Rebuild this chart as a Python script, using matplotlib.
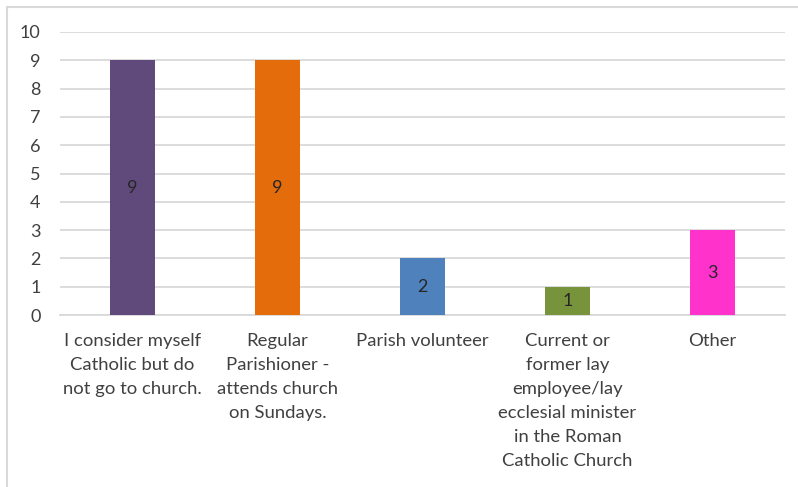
import matplotlib.pyplot as plt
from matplotlib.patches import Rectangle

categories = [
    "I consider myself\nCatholic but do\nnot go to church.",
    "Regular\nParishioner -\nattends church\non Sundays.",
    "Parish volunteer",
    "Current or\nformer lay\nemployee/lay\necclesial minister\nin the Roman\nCatholic Church",
    "Other",
]
counts = [9, 9, 2, 1, 3]
bar_colors = ["#604A7B", "#E46C0A", "#4F81BD", "#77933C", "#FF33CC"]
y_ticks = list(range(0, 11))

plt.rcParams['font.family'] = ['Lato', 'DejaVu Sans']

W, H = 798, 487
fig = plt.figure(figsize=(W / 100, H / 100), dpi=100)

# chart frame (right and bottom edges run off the image)
fig.patches.append(Rectangle((7 / W, -0.1), 1.2, (H - 7) / H + 0.1,
                             transform=fig.transFigure, fill=False,
                             edgecolor="#D9D9D9", linewidth=1.5))

ax = fig.add_axes([60 / W, (H - 315) / H, 725 / W, 283 / H])

x = range(len(categories))
bars = ax.bar(x, counts, width=0.31, color=bar_colors, zorder=3)

for b, v in zip(bars, counts):
    ax.text(b.get_x() + b.get_width() / 2, v / 2, str(v),
            ha="center", va="center", fontsize=13, color="#262626", zorder=4)

ax.set_xlim(-0.5, len(categories) - 0.5)
ax.set_ylim(0, 10)
ax.set_yticks(y_ticks)
ax.yaxis.grid(True, color="#D9D9D9", linewidth=1.3, zorder=0)
ax.set_axisbelow(True)

ax.set_xticks(list(x))
ax.set_xticklabels(categories, fontsize=13.3, color="#404040", linespacing=1.62,
                   va="top")
ax.tick_params(axis="x", length=0, pad=13)
ax.tick_params(axis="y", length=0, pad=14, labelsize=13, labelcolor="#404040")

for side in ["top", "right", "left"]:
    ax.spines[side].set_visible(False)
ax.spines["bottom"].set_color("#D9D9D9")
ax.spines["bottom"].set_linewidth(1.3)

fig.savefig("out.png", dpi=100)
